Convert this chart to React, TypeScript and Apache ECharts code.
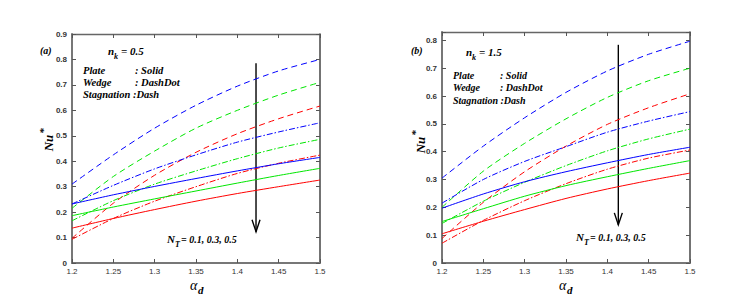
import React, { useEffect, useRef } from "react";
import * as echarts from "echarts";

const xValues = [1.2, 1.25, 1.3, 1.35, 1.4, 1.45, 1.5];

// Panel (a): n_k = 0.5  (blue: N_T=0.1, green: 0.3, red: 0.5)
const aStagBlue = [0.31, 0.425, 0.53, 0.62, 0.695, 0.755, 0.8];
const aStagGreen = [0.215, 0.34, 0.44, 0.53, 0.6, 0.66, 0.71];
const aStagRed = [0.097, 0.235, 0.345, 0.435, 0.508, 0.567, 0.617];
const aWedgeBlue = [0.232, 0.305, 0.37, 0.425, 0.475, 0.515, 0.551];
const aWedgeGreen = [0.166, 0.245, 0.31, 0.362, 0.41, 0.452, 0.486];
const aWedgeRed = [0.093, 0.175, 0.243, 0.3, 0.352, 0.392, 0.424];
const aPlateBlue = [0.232, 0.268, 0.301, 0.332, 0.362, 0.39, 0.415];
const aPlateGreen = [0.186, 0.22, 0.252, 0.283, 0.314, 0.344, 0.372];
const aPlateRed = [0.137, 0.175, 0.21, 0.243, 0.273, 0.3, 0.326];

// Panel (b): n_k = 1.5
const bStagBlue = [0.305, 0.42, 0.522, 0.613, 0.69, 0.75, 0.797];
const bStagGreen = [0.2, 0.33, 0.43, 0.518, 0.595, 0.655, 0.7];
const bStagRed = [0.088, 0.218, 0.328, 0.42, 0.498, 0.558, 0.608];
const bWedgeBlue = [0.215, 0.3, 0.365, 0.418, 0.47, 0.51, 0.544];
const bWedgeGreen = [0.142, 0.222, 0.29, 0.35, 0.403, 0.446, 0.481];
const bWedgeRed = [0.071, 0.153, 0.224, 0.285, 0.337, 0.377, 0.406];
const bPlateBlue = [0.197, 0.248, 0.292, 0.328, 0.36, 0.39, 0.416];
const bPlateGreen = [0.149, 0.195, 0.24, 0.278, 0.31, 0.34, 0.368];
const bPlateRed = [0.105, 0.15, 0.192, 0.232, 0.266, 0.296, 0.323];

const yMaxA = 0.9;
const yMaxB = 0.83;
const arrowA = { x: 1.4226, top: 0.785, tip: 0.123 };
const arrowB = { x: 1.4133, top: 0.784, tip: 0.137 };

const BLUE = "#0000ff";
const GREEN = "#00e600";
const RED = "#ff0000";
const DASH = [6, 4];
const DASHDOT = [6, 2, 1.5, 2];
const serif = "'Liberation Serif', 'Times New Roman', serif";

function mk(panel: number, arr: number[], color: string, type: any) {
  return {
    type: "line",
    xAxisIndex: panel * 2,
    yAxisIndex: panel * 2,
    data: xValues.map((x, i) => [x, arr[i]]),
    showSymbol: false,
    smooth: 0.25,
    lineStyle: { color, width: 1, type },
    silent: true,
  };
}

function txt(x: number, y: number, text: string, size = 10, extra: any = {}, weight = "bold") {
  return {
    type: "text",
    x,
    y,
    silent: true,
    style: {
      text,
      font: `italic ${weight} ${size}px ${serif}`,
      fill: "#000",
      verticalAlign: "middle",
      align: "left",
      ...extra,
    },
  };
}

const fmt = (v: number) =>
  Math.abs(v * 10 - Math.round(v * 10)) < 1e-6 ? String(+v.toFixed(2)) : "";

function xAxes(grid: number) {
  const common = {
    gridIndex: grid,
    type: "value",
    min: 1.2,
    max: 1.5,
    interval: 0.05,
    splitLine: { show: false },
    axisTick: { inside: true, length: 4, lineStyle: { color: "#555", width: 1 } },
  };
  return [
    {
      ...common,
      position: "bottom",
      axisLine: { onZero: false, lineStyle: { color: "#777", width: 2 } },
      axisLabel: { fontSize: 8, margin: 4, color: "#333", fontFamily: "Liberation Sans, Arial" },
    },
    {
      ...common,
      position: "top",
      axisLine: { onZero: false, lineStyle: { color: "#666", width: 1.3 } },
      axisLabel: { show: false },
    },
  ];
}

function yAxes(grid: number, max: number) {
  const common = {
    gridIndex: grid,
    type: "value",
    min: 0,
    max,
    interval: 0.1,
    splitLine: { show: false },
    axisTick: { inside: true, length: 4, lineStyle: { color: "#555", width: 1 } },
  };
  return [
    {
      ...common,
      position: "left",
      axisLine: { onZero: false, lineStyle: { color: "#777", width: 2 } },
      axisLabel: {
        fontSize: 8,
        margin: 5,
        color: "#333",
        fontWeight: "bold",
        fontFamily: "Liberation Sans, Arial",
        formatter: fmt,
      },
    },
    {
      ...common,
      position: "right",
      axisLine: { onZero: false, lineStyle: { color: "#444", width: 1.5 } },
      axisLabel: { show: false },
    },
  ];
}

function panelTexts(o: any) {
  const s = o.size;
  return [
    txt(o.tagX, o.tagY, o.tag, 10),
    txt(o.nkX, o.nkY, "n", 11),
    txt(o.nkX + 6, o.nkY + 5, "k", 8),
    txt(o.nkX + 13, o.nkY, "= " + o.nk, 11),
    txt(o.legX, o.legY, "Plate", s),
    txt(o.colX, o.legY, ": Solid", s),
    txt(o.legX, o.legY + o.dy, "Wedge", s),
    txt(o.colX, o.legY + o.dy, ": DashDot", s),
    txt(o.legX, o.legY + 2 * o.dy, "Stagnation :Dash", s),
    txt(o.ntX, o.ntY, "N", 11),
    txt(o.ntX + 8, o.ntY + 5, "T", 8),
    txt(o.ntX + 14, o.ntY, "= 0.1, 0.3, 0.5", 10),
    txt(o.adX, o.adY, "α", 14, {}, "normal"),
    txt(o.adX + 8, o.adY + 5, "d", 11),
    {
      type: "group",
      x: o.nuX,
      y: o.nuY,
      rotation: Math.PI / 2,
      children: [
        txt(0, 0, "Nu", 13, { align: "center" }),
        txt(12, -5, "*", 11, { align: "center" }),
      ],
    },
  ];
}

export default function App() {
  const ref = useRef<HTMLDivElement>(null);
  useEffect(() => {
    if (!ref.current) return;
    const chart = echarts.init(ref.current, null, { renderer: "svg" });
    const series = [
      mk(0, aStagBlue, BLUE, DASH),
      mk(0, aStagGreen, GREEN, DASH),
      mk(0, aStagRed, RED, DASH),
      mk(0, aWedgeBlue, BLUE, DASHDOT),
      mk(0, aWedgeGreen, GREEN, DASHDOT),
      mk(0, aWedgeRed, RED, DASHDOT),
      mk(0, aPlateBlue, BLUE, "solid"),
      mk(0, aPlateGreen, GREEN, "solid"),
      mk(0, aPlateRed, RED, "solid"),
      mk(1, bStagBlue, BLUE, DASH),
      mk(1, bStagGreen, GREEN, DASH),
      mk(1, bStagRed, RED, DASH),
      mk(1, bWedgeBlue, BLUE, DASHDOT),
      mk(1, bWedgeGreen, GREEN, DASHDOT),
      mk(1, bWedgeRed, RED, DASHDOT),
      mk(1, bPlateBlue, BLUE, "solid"),
      mk(1, bPlateGreen, GREEN, "solid"),
      mk(1, bPlateRed, RED, "solid"),
    ];
    chart.setOption({
      animation: false,
      backgroundColor: "#fff",
      grid: [
        { left: 72, top: 34, width: 248, height: 229 },
        { left: 442, top: 32, width: 248, height: 231 },
      ],
      xAxis: [...xAxes(0), ...xAxes(1)],
      yAxis: [...yAxes(0, yMaxA), ...yAxes(1, yMaxB)],
      series,
    });

    const arrow = (grid: number, a: any) => {
      const top = chart.convertToPixel({ gridIndex: grid } as any, [a.x, a.top]) as number[];
      const tip = chart.convertToPixel({ gridIndex: grid } as any, [a.x, a.tip]) as number[];
      const ls = { stroke: "#000", lineWidth: 1.4 };
      return [
        { type: "line", silent: true, shape: { x1: top[0], y1: top[1], x2: tip[0], y2: tip[1] }, style: ls },
        { type: "polyline", silent: true, shape: { points: [[tip[0] - 4, tip[1] - 12], [tip[0], tip[1]], [tip[0] + 4, tip[1] - 12]] }, style: { ...ls, fill: null } },
      ];
    };

    const graphic = [
      ...arrow(0, arrowA),
      ...arrow(1, arrowB),
      ...panelTexts({
        size: 10.5, tag: "(a)", tagX: 40, tagY: 50, nk: "0.5", nkX: 108, nkY: 51,
        legX: 83, colX: 135, legY: 70, dy: 12.2,
        ntX: 167, ntY: 239, adX: 190, adY: 285, nuX: 48, nuY: 143,
      }),
      ...panelTexts({
        size: 10, tag: "(b)", tagX: 411, tagY: 50, nk: "1.5", nkX: 466, nkY: 52,
        legX: 453, colX: 500, legY: 75, dy: 12.5,
        ntX: 576, ntY: 237, adX: 559, adY: 285, nuX: 420, nuY: 145,
      }),
    ];
    chart.setOption({ graphic });
    return () => chart.dispose();
  }, []);
  return (
    <div
      ref={ref}
      style={{ position: "fixed", left: 0, top: 0, width: 729, height: 301, background: "#fff" }}
    />
  );
}
